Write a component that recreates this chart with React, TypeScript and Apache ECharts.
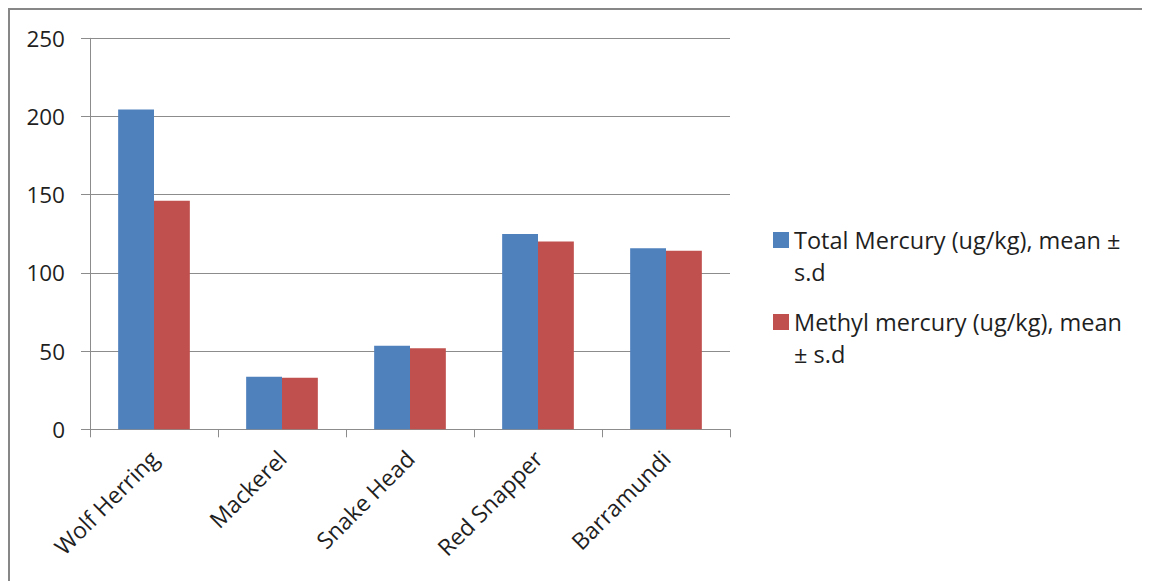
import React, { useEffect, useRef } from "react";
import * as echarts from "echarts";

const categories = ["Wolf Herring", "Mackerel", "Snake Head", "Red Snapper", "Barramundi"];
const totalMercury = [204.5, 33.6, 53.5, 124.8, 115.7];
const methylMercury = [146.2, 33.0, 51.8, 120.0, 114.2];
const seriesNames = ["Total Mercury (ug/kg), mean ± s.d", "Methyl mercury (ug/kg), mean ± s.d"];
// Legend entries wrap onto two lines; the leading blank line keeps the swatch level with the first line.
const legendLines: Record<string, string> = {
  [seriesNames[0]]: "\nTotal Mercury (ug/kg), mean ±\ns.d",
  [seriesNames[1]]: "\nMethyl mercury (ug/kg), mean\n± s.d",
};

const FONT = "'Open Sans', 'Noto Sans', sans-serif";
const TEXT = "#1f1f1f";
const GRID = "#8c8c8c";

export default function App() {
  const ref = useRef<HTMLDivElement>(null);

  useEffect(() => {
    if (!ref.current) return;
    const chart = echarts.init(ref.current, null, { renderer: "svg" });

    const legendText = {
      fontFamily: FONT,
      fontSize: 23.5,
      color: TEXT,
      lineHeight: 32,
    };

    const legendBase = {
      left: 765,
      padding: 0,
      orient: "vertical",
      icon: "rect",
      itemWidth: 16,
      itemHeight: 16,
      itemGap: 0,
      formatter: (n: string) => legendLines[n],
      textStyle: legendText,
    };

    chart.setOption({
      animation: false,
      backgroundColor: "#ffffff",
      textStyle: { fontFamily: FONT },
      graphic: [
        {
          type: "rect",
          shape: { x: 1, y: 1, width: 1300, height: 900 },
          style: { fill: "none", stroke: "#878787", lineWidth: 2 },
          silent: true,
        },
      ],
      grid: { left: 82, right: 420, top: 30.3, bottom: 151.7 },
      legend: [
        { ...legendBase, data: [seriesNames[0]], top: 184 },
        { ...legendBase, data: [seriesNames[1]], top: 266 },
      ],
      xAxis: {
        type: "category",
        data: categories,
        axisLine: { show: true, lineStyle: { color: GRID, width: 1 } },
        axisTick: { show: true, length: 8, interval: 0, lineStyle: { color: GRID } },
        axisLabel: {
          interval: 0,
          rotate: 45,
          margin: 25,
          fontFamily: FONT,
          fontSize: 23,
          color: TEXT,
        },
      },
      yAxis: {
        type: "value",
        min: 0,
        max: 250,
        interval: 50,
        axisLine: { show: true, lineStyle: { color: GRID, width: 1 } },
        axisTick: { show: true, length: 9, lineStyle: { color: GRID } },
        splitLine: { show: true, lineStyle: { color: GRID, width: 1 } },
        axisLabel: {
          margin: 25,
          fontFamily: FONT,
          fontSize: 22.5,
          color: TEXT,
        },
      },
      series: [
        {
          name: seriesNames[0],
          type: "bar",
          data: totalMercury,
          barGap: "0%",
          barCategoryGap: "44%",
          itemStyle: { color: "#4f81bd" },
        },
        {
          name: seriesNames[1],
          type: "bar",
          data: methylMercury,
          barGap: "0%",
          barCategoryGap: "44%",
          itemStyle: { color: "#c0504d" },
        },
      ],
    });

    return () => chart.dispose();
  }, []);

  return <div ref={ref} style={{ width: 1142, height: 573 }} />;
}
